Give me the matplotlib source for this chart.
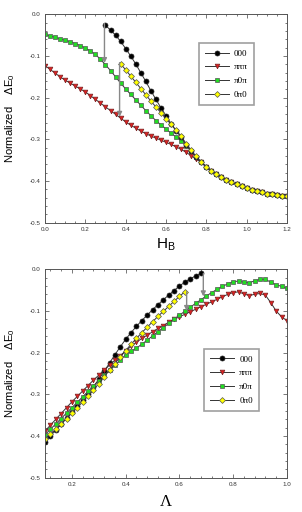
import numpy as np
import matplotlib
matplotlib.use("Agg")
import matplotlib.pyplot as plt
from matplotlib.ticker import MultipleLocator

plt.rcParams['font.family'] = ['Liberation Sans', 'DejaVu Sans']
plt.rcParams['axes.unicode_minus'] = False

# ---------------- top panel data (x = H_B) ----------------
hb_red = np.round(np.arange(0, 32) * 0.025, 3)
red_top = [-0.123, -0.132, -0.141, -0.150, -0.158, -0.165, -0.172, -0.179, -0.186, -0.195,
           -0.204, -0.213, -0.222, -0.231, -0.240, -0.249, -0.258, -0.266, -0.273, -0.280,
           -0.286, -0.292, -0.297, -0.302, -0.307, -0.312, -0.318, -0.324, -0.331, -0.339,
           -0.347, -0.355]
hb_green = hb_red
green_top = [-0.048, -0.052, -0.055, -0.059, -0.062, -0.066, -0.070, -0.075, -0.081, -0.088,
             -0.096, -0.108, -0.121, -0.135, -0.150, -0.165, -0.179, -0.192, -0.205, -0.218,
             -0.231, -0.243, -0.255, -0.265, -0.275, -0.285, -0.294, -0.303, -0.315, -0.329,
             -0.342, -0.355]
hb_black = np.round(0.3 + np.arange(0, 20) * 0.025, 3)
black_top = [-0.026, -0.038, -0.050, -0.065, -0.082, -0.100, -0.119, -0.140, -0.161, -0.183,
             -0.204, -0.224, -0.243, -0.262, -0.279, -0.295, -0.313, -0.328, -0.342, -0.355]
hb_yellow = np.round(0.375 + np.arange(0, 17) * 0.025, 3)
yellow_top = [-0.119, -0.133, -0.148, -0.163, -0.178, -0.193, -0.208, -0.222, -0.236, -0.250,
              -0.264, -0.278, -0.292, -0.310, -0.326, -0.341, -0.355]
hb_tail = np.round(0.8 + np.arange(0, 17) * 0.025, 3)
tail_top = [-0.366, -0.375, -0.383, -0.390, -0.397, -0.403, -0.408, -0.413, -0.417, -0.421,
            -0.424, -0.427, -0.430, -0.432, -0.434, -0.436, -0.437]

# ---------------- bottom panel data (x = Lambda) ----------------
lam = np.round(0.1 + np.arange(0, 46) * 0.02, 3)
black_bot = [-0.414, -0.400, -0.386, -0.372, -0.357, -0.343, -0.328, -0.313, -0.298, -0.282,
             -0.264, -0.245, -0.225, -0.205, -0.186, -0.168, -0.152, -0.137, -0.123, -0.110,
             -0.097, -0.085, -0.073, -0.062, -0.051, -0.040, -0.031, -0.023, -0.016, -0.010]
yellow_bot = [-0.407, -0.396, -0.384, -0.371, -0.358, -0.345, -0.332, -0.318, -0.304, -0.290,
              -0.274, -0.258, -0.242, -0.226, -0.210, -0.195, -0.180, -0.166, -0.152, -0.139,
              -0.126, -0.113, -0.101, -0.089, -0.077, -0.065, -0.054]
green_bot = [-0.397, -0.384, -0.371, -0.358, -0.345, -0.332, -0.319, -0.306, -0.293, -0.280,
             -0.267, -0.254, -0.242, -0.230, -0.218, -0.205, -0.197, -0.189, -0.180, -0.170,
             -0.160, -0.150, -0.140, -0.130, -0.120, -0.110, -0.101, -0.091, -0.082, -0.073,
             -0.064, -0.056, -0.048, -0.041, -0.035, -0.030, -0.028, -0.031, -0.032, -0.028,
             -0.024, -0.024, -0.031, -0.037, -0.041, -0.046]
red_bot = [-0.388, -0.374, -0.360, -0.346, -0.332, -0.318, -0.305, -0.292, -0.279, -0.266,
           -0.254, -0.242, -0.230, -0.218, -0.207, -0.196, -0.185, -0.175, -0.166, -0.158,
           -0.150, -0.142, -0.135, -0.127, -0.120, -0.114, -0.108, -0.102, -0.096, -0.090,
           -0.084, -0.078, -0.072, -0.066, -0.060, -0.056, -0.054, -0.059, -0.063, -0.060,
           -0.058, -0.062, -0.080, -0.100, -0.114, -0.123]

labels = ["000", "πππ", "π0π", "0π0"]

styles = {
    "000": dict(marker='o', mfc='black', mec='#222222', ms=3.6),
    "πππ": dict(marker='v', mfc='#dd2222', mec='#772222', ms=3.4),
    "π0π": dict(marker='s', mfc='#22dd22', mec='#555555', ms=3.2),
    "0π0": dict(marker='D', mfc='#ffff00', mec='#555555', ms=3.0),
}
line_kw = dict(color='#333333', lw=0.7, mew=0.5)

fig = plt.figure(figsize=(3.02, 5.12), dpi=100)
ax1 = fig.add_axes([0.149, 0.565, 0.801, 0.407])
ax2 = fig.add_axes([0.149, 0.067, 0.801, 0.407])

arrow_kw = dict(arrowstyle='-|>', color='#888888', lw=1.0, mutation_scale=7,
                shrinkA=0, shrinkB=0)

# top panel
hb_black_full = np.concatenate([hb_black, hb_tail])
black_full = black_top + tail_top
hb_rg_full = np.concatenate([hb_red, hb_tail])
ax1.plot(hb_rg_full, red_top + tail_top, **line_kw, **styles["πππ"], label="πππ")
ax1.plot(hb_rg_full, green_top + tail_top, **line_kw, **styles["π0π"], label="π0π")
ax1.plot(hb_black_full, black_full, **line_kw, **styles["000"], label="000")
ax1.plot(np.concatenate([hb_yellow, hb_tail]), yellow_top + tail_top, **line_kw,
         **styles["0π0"], label="0π0")
ax1.annotate('', xy=(hb_black[0] - 0.005, green_top[12] + 0.004),
             xytext=(hb_black[0] - 0.005, black_top[0] + 0.004), arrowprops=arrow_kw)
ax1.annotate('', xy=(hb_yellow[0] - 0.005, red_top[15] + 0.003),
             xytext=(hb_yellow[0] - 0.005, yellow_top[0] + 0.003), arrowprops=arrow_kw)
ax1.set_xlim(0, 1.2)
ax1.set_ylim(-0.5, 0.0)
ax1.xaxis.set_major_locator(MultipleLocator(0.2))
ax1.xaxis.set_minor_locator(MultipleLocator(0.05))
ax1.set_xlabel("H$_\\mathregular{B}$", fontsize=11, labelpad=3)

# bottom panel
ax2.plot(lam[:len(black_bot)], black_bot, **line_kw, **styles["000"], label="000")
ax2.plot(lam, red_bot, **line_kw, **styles["πππ"], label="πππ")
ax2.plot(lam, green_bot, **line_kw, **styles["π0π"], label="π0π")
ax2.plot(lam[:len(yellow_bot)], yellow_bot, **line_kw, **styles["0π0"], label="0π0")
ax2.annotate('', xy=(lam[len(yellow_bot) - 1] + 0.007, -0.100),
             xytext=(lam[len(yellow_bot) - 1] + 0.007, yellow_bot[-1]), arrowprops=arrow_kw)
ax2.annotate('', xy=(lam[len(black_bot) - 1] + 0.009, -0.065),
             xytext=(lam[len(black_bot) - 1] + 0.009, black_bot[-1]), arrowprops=arrow_kw)
ax2.set_xlim(0.1, 1.0)
ax2.set_ylim(-0.5, 0.0)
ax2.xaxis.set_major_locator(MultipleLocator(0.2))
ax2.xaxis.set_minor_locator(MultipleLocator(0.04))
ax2.set_xlabel("Λ", fontsize=12, family=['Liberation Serif'], labelpad=5)

for ax in (ax1, ax2):
    ax.yaxis.set_major_locator(MultipleLocator(0.1))
    ax.yaxis.set_minor_locator(MultipleLocator(0.02))
    ax.tick_params(which='both', direction='in', top=True, right=True,
                   labelsize=4.5, width=0.5, color='#444444', labelcolor='#333333', pad=3)
    ax.tick_params(which='major', length=3)
    ax.tick_params(which='minor', length=1.5)
    for s in ax.spines.values():
        s.set_linewidth(0.7)
        s.set_color('#555555')
    ax.yaxis.set_major_formatter(matplotlib.ticker.FormatStrFormatter('%.1f'))
    ax.xaxis.set_major_formatter(matplotlib.ticker.FormatStrFormatter('%.1f'))
    ax.set_ylabel("Normalized    ΔE$_\\mathregular{0}$", fontsize=8, labelpad=9)
    handles, labs = ax.get_legend_handles_labels()
    order = [labs.index(l) for l in labels]
    ax._legend_h = ([handles[i] for i in order], [labs[i] for i in order])

leg_kw = dict(prop={'family': 'Liberation Serif', 'size': 6.5}, frameon=True,
              fancybox=False, edgecolor='#888888', handlelength=2.6, handletextpad=0.6,
              labelspacing=0.6, borderpad=0.7, borderaxespad=0, loc='upper left')
l1 = ax1.legend(*ax1._legend_h, bbox_to_anchor=(0.636, 0.862), **leg_kw)
l2 = ax2.legend(*ax2._legend_h, bbox_to_anchor=(0.657, 0.618), **leg_kw)
for l in (l1, l2):
    l.get_frame().set_linewidth(1.2)

fig.savefig("out.png", dpi=100)
